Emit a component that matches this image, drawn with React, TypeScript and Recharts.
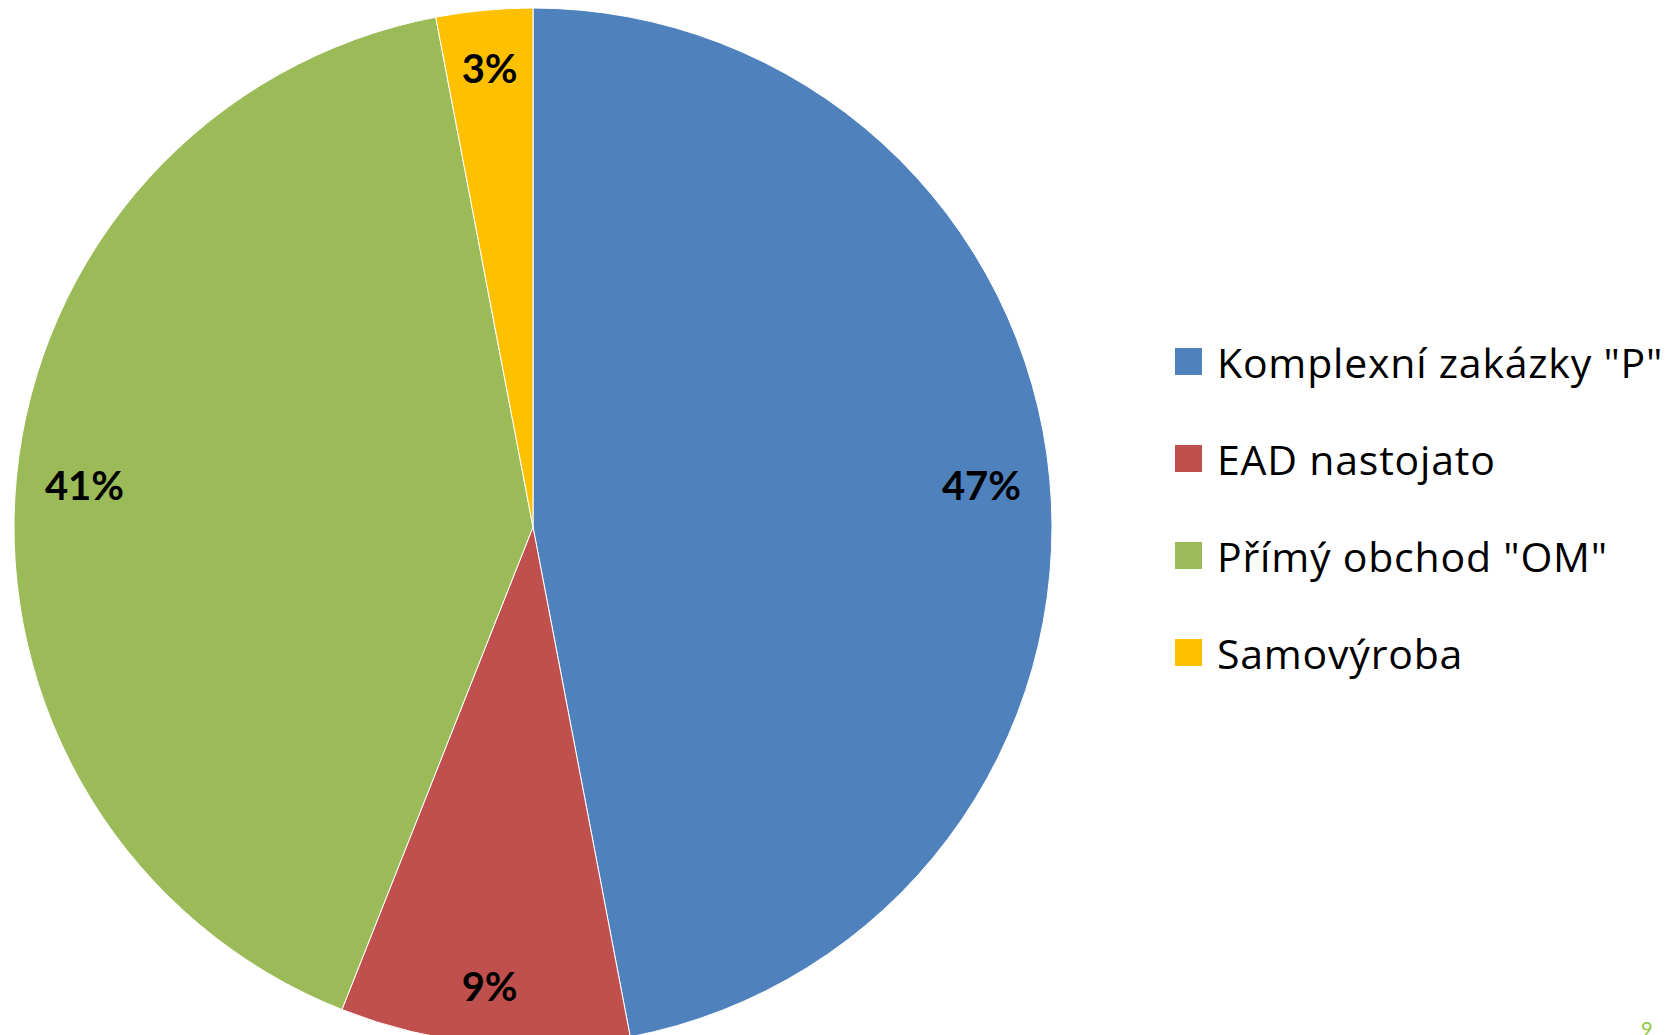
import React from 'react';
import { PieChart, Pie, Cell, Legend } from 'recharts';

const categories = ['Komplexní zakázky "P"', 'EAD nastojato', 'Přímý obchod "OM"', 'Samovýroba'];
const shares = [47, 9, 41, 3];
const colors = ['#4F81BD', '#C0504D', '#9BBB59', '#FFC000'];

const data = categories.map((name, i) => ({ name, value: shares[i] }));

const RAD = Math.PI / 180;

// labels sit a bit further out near the top and bottom, like in Excel
const renderLabel = (props: any) => {
  const { cx, cy, midAngle, outerRadius, value } = props;
  const r = outerRadius * (0.866 + 0.022 * Math.abs(Math.sin(midAngle * RAD)));
  const x = cx + r * Math.cos(-midAngle * RAD);
  const y = cy + r * Math.sin(-midAngle * RAD);
  return (
    <text
      x={x}
      y={y}
      textAnchor="middle"
      dominantBaseline="central"
      fill="#000"
      style={{ fontFamily: 'Lato', fontWeight: 700, fontSize: 40 }}
    >
      {value}%
    </text>
  );
};

const renderLegend = () => (
  <div style={{ fontFamily: 'Open Sans', fontSize: 41, letterSpacing: 0.8, color: '#000' }}>
    {categories.map((c, i) => (
      <div key={c} style={{ display: 'flex', alignItems: 'center', height: 97 }}>
        <span style={{ width: 27, height: 27, background: colors[i], marginRight: 15, display: 'inline-block', flexShrink: 0 }} />
        <span style={{ whiteSpace: 'nowrap' }}>{c}</span>
      </div>
    ))}
  </div>
);

export default function App() {
  return (
    <div style={{ position: 'absolute', left: 0, top: 0, width: 1679, height: 1035, overflow: 'hidden', background: '#fff' }}>
      <PieChart width={1679} height={1035} margin={{ top: 0, right: 0, bottom: 0, left: 0 }}>
        <Pie
          data={data}
          dataKey="value"
          nameKey="name"
          cx={533}
          cy={527}
          outerRadius={519}
          startAngle={90}
          endAngle={-270}
          stroke="#fff"
          strokeWidth={1}
          label={renderLabel}
          labelLine={false}
          isAnimationActive={false}
        >
          {data.map((d, i) => (
            <Cell key={d.name} fill={colors[i]} />
          ))}
        </Pie>
        <Legend
          layout="vertical"
          content={renderLegend}
          wrapperStyle={{ position: 'absolute', left: 1175, top: 313, width: 504 }}
        />
      </PieChart>
      <div style={{ position: 'absolute', left: 1641, top: 1016, fontFamily: 'Lato', fontSize: 20, color: '#8DC63F' }}>9</div>
    </div>
  );
}
